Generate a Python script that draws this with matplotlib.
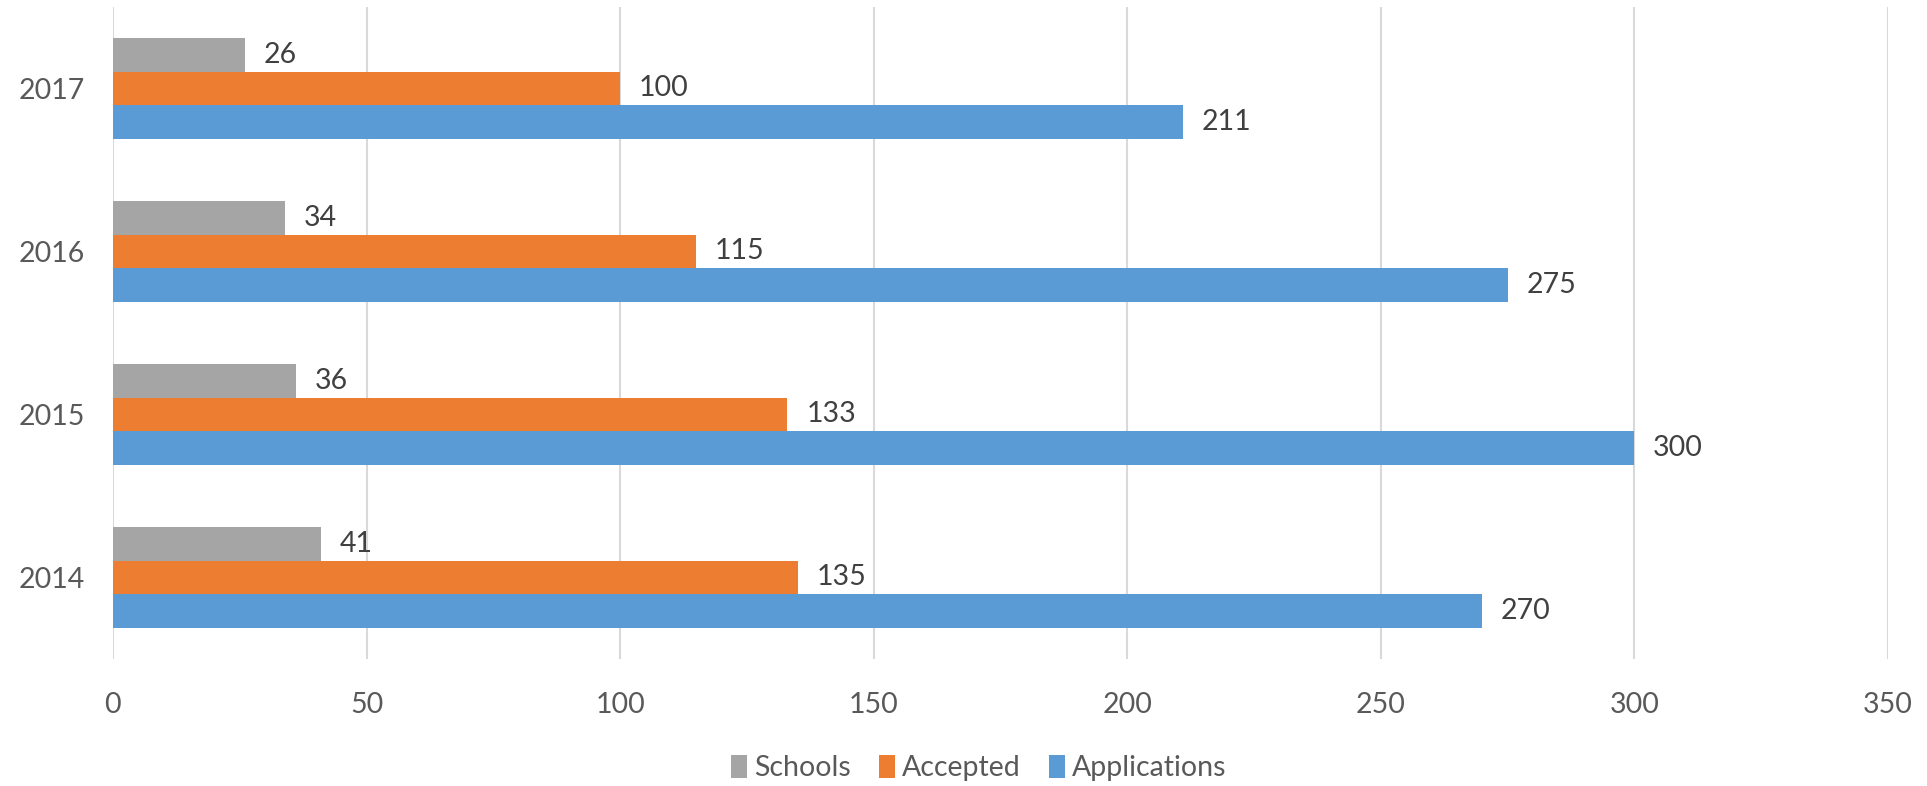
import numpy as np
import matplotlib
matplotlib.use('Agg')
import matplotlib.pyplot as plt

# 数据
years = ['2014', '2015', '2016', '2017']
schools = [41, 36, 34, 26]
accepted = [135, 133, 115, 100]
applications = [270, 300, 275, 211]
x_ticks = [0, 50, 100, 150, 200, 250, 300, 350]

plt.rcParams['font.family'] = ['Lato', 'DejaVu Sans']

fig = plt.figure(figsize=(19.27, 7.86), dpi=100)
ax = fig.add_axes([0.0586, 0.1616, 0.9212, 0.8295])

y = np.arange(len(years))
h = 0.206
series = [
    ('Schools', schools, '#A5A5A5', h),
    ('Accepted', accepted, '#ED7D31', 0),
    ('Applications', applications, '#5B9BD5', -h),
]

for name, vals, color, off in series:
    bars = ax.barh(y + off, vals, height=h, color=color, label=name, zorder=3)
    for bar, v in zip(bars, vals):
        ax.annotate(str(v), (bar.get_width(), bar.get_y() + bar.get_height() / 2),
                    xytext=(13.5, 0), textcoords='offset points', va='center', ha='left',
                    fontsize=20.5, color='#404040')

ax.set_xlim(0, 350)
ax.set_ylim(-0.5, 3.5)
ax.set_xticks(x_ticks)
ax.set_yticks(y)
ax.set_yticklabels(years)
ax.tick_params(axis='both', length=0, labelsize=20.5, labelcolor='#595959')
ax.tick_params(axis='x', pad=24)
ax.tick_params(axis='y', pad=20)
ax.grid(axis='x', color='#D9D9D9', linewidth=1.5, zorder=0)
for s in ax.spines.values():
    s.set_visible(False)

fig.legend(loc='center', bbox_to_anchor=(979 / 1927, 1 - 768 / 786), ncol=3, frameon=False,
           fontsize=20.5, labelcolor='#595959', handlelength=0.55, handleheight=0.9,
           handletextpad=0.25, columnspacing=1.0)

plt.savefig('out.png', dpi=100)
plt.close()
